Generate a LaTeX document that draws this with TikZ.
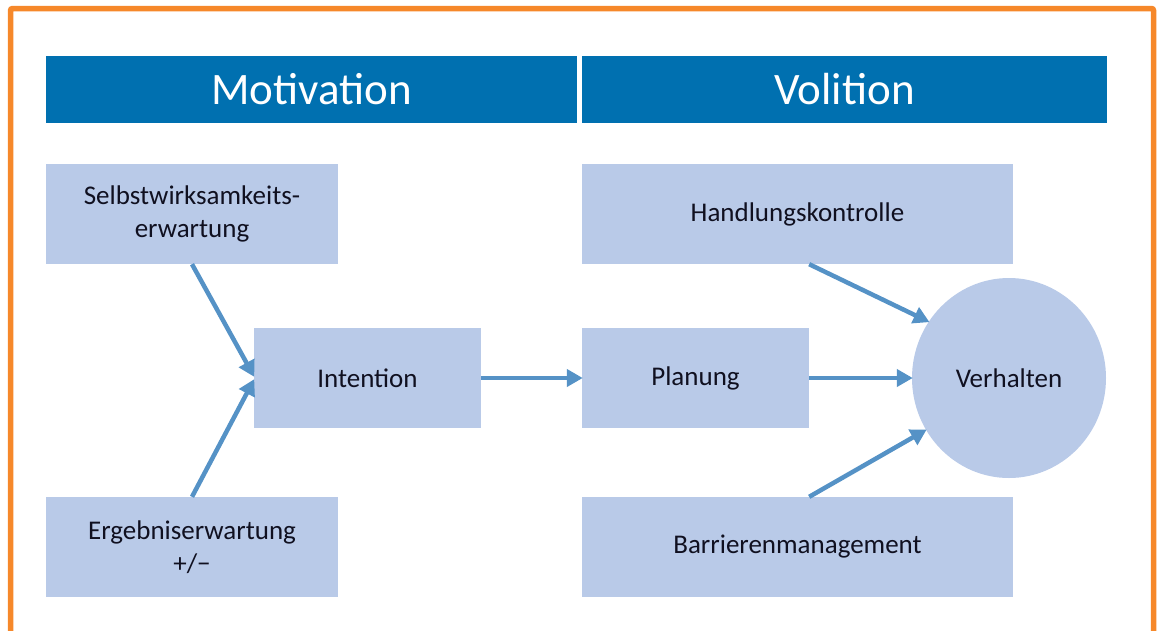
\documentclass[tikz,border=0pt]{standalone}
\usepackage{fontspec}
\setmainfont{Carlito}
\usetikzlibrary{arrows.meta,shapes.geometric,calc}
\definecolor{hdr}{HTML}{0070B0}
\definecolor{boxfill}{HTML}{B9CAE8}
\definecolor{arr}{HTML}{5592C6}
\definecolor{frm}{HTML}{F6882A}
\definecolor{txt}{HTML}{101020}
\begin{document}
\begin{tikzpicture}[x=1pt,y=-1pt,
  header/.style={fill=hdr,inner sep=0pt,text=white,font=\fontsize{45}{52}\selectfont},
  cbox/.style={fill=boxfill,inner sep=0pt,text=txt,align=center,font=\fontsize{27}{33}\selectfont},
  conn/.style={draw=arr,line width=4.5pt,-{Triangle[length=16pt,width=17pt]},shorten >=-1pt}]
\useasboundingbox (0,0) rectangle (1160,630);
\draw[frm,line width=5.5pt,rounded corners=2pt] (10.5,640) -- (10.5,8.5) -- (1153.5,8.5) -- (1153.5,640);
\node[header,minimum width=531pt,minimum height=67pt] (mot) at (311.5,89.5) {Motivation};
\node[header,minimum width=525pt,minimum height=67pt] (vol) at (844.5,89.5) {Volition};
\node[cbox,minimum width=292pt,minimum height=100pt] (selbst) at (192,214) {Selbstwirksamkeits-\\erwartung};
\node[cbox,minimum width=292pt,minimum height=100pt] (ergeb) at (192,547) {Ergebniserwartung\\+/−};
\node[cbox,minimum width=227pt,minimum height=100pt] (intent) at (367.5,378) {Intention};
\node[cbox,minimum width=227pt,minimum height=100pt] (plan) at (695.5,378) {Planung};
\node[cbox,minimum width=431pt,minimum height=100pt] (hand) at (797.5,214) {Handlungskontrolle};
\node[cbox,minimum width=431pt,minimum height=100pt] (barr) at (797.5,547) {Barrierenmanagement};
\node[cbox,ellipse,minimum width=194pt,minimum height=200pt] (verh) at (1009,378) {Verhalten};
\draw[conn] (selbst.south) -- ($(intent.west)+(0,-2)$);
\draw[conn] (ergeb.north) -- ($(intent.west)+(0,2)$);
\draw[conn] (intent.east) -- (plan.west);
\draw[conn] (plan.east) -- (verh.west);
\draw[conn] (hand.south -| plan.east) -- (verh.145);
\draw[conn] (barr.north -| plan.east) -- (verh.212);
\end{tikzpicture}
\end{document}
